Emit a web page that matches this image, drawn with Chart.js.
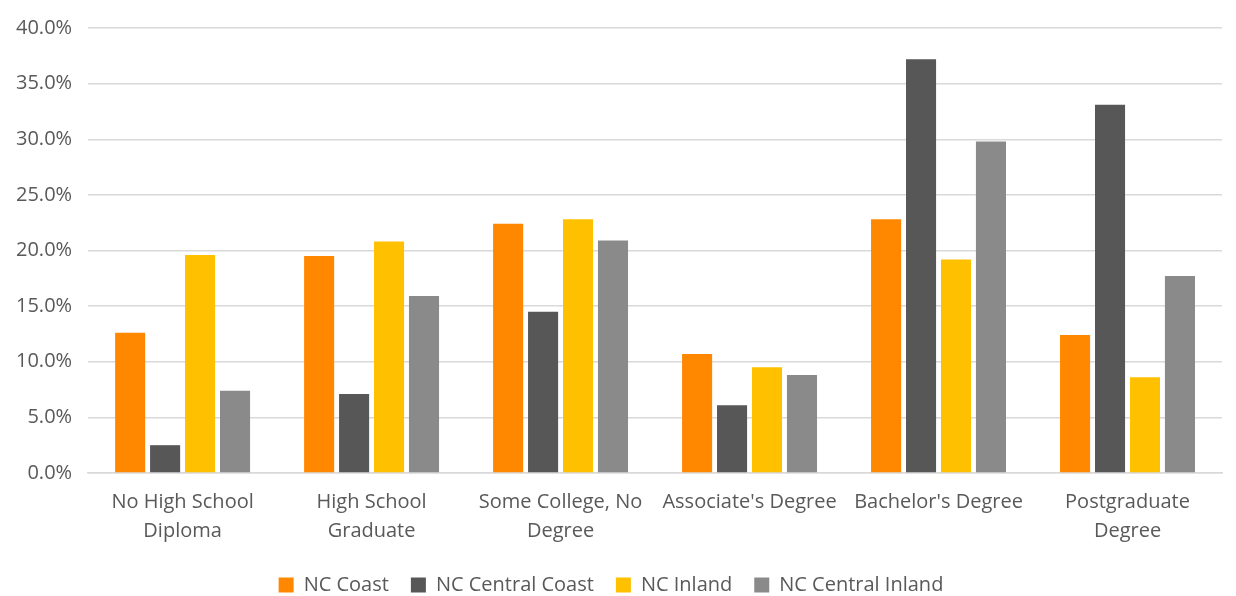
<!DOCTYPE html>
<html>
<head>
<meta charset="utf-8">
<script src="https://cdn.jsdelivr.net/npm/chart.js@4"></script>
<style>
  html, body { margin: 0; padding: 0; background: #fff; }
  #wrap { width: 1236px; height: 596px; }
</style>
</head>
<body>
<div id="wrap"><canvas id="chart" width="1236" height="596"></canvas></div>
<script>
// ---- Data ----
const categories = [
    ['No High School', 'Diploma'],
    ['High School', 'Graduate'],
    ['Some College, No', 'Degree'],
    "Associate's Degree",
    "Bachelor's Degree",
    ['Postgraduate', 'Degree']
];
const seriesNames = ['NC Coast', 'NC Central Coast', 'NC Inland', 'NC Central Inland'];
const ncCoast = [12.6, 19.5, 22.4, 10.7, 22.8, 12.4];
const ncCentralCoast = [2.5, 7.1, 14.5, 6.1, 37.2, 33.1];
const ncInland = [19.6, 20.8, 22.8, 9.5, 19.2, 8.6];
const ncCentralInland = [7.4, 15.9, 20.9, 8.8, 29.8, 17.7];
const colors = ['#ff8800', '#575757', '#ffc000', '#8a8a8a'];

const fontFamily = '"Open Sans", sans-serif';

const seriesValues = [ncCoast, ncCentralCoast, ncInland, ncCentralInland];
const datasets = seriesNames.map(function (name, i) {
    return {
        label: name,
        data: seriesValues[i],
        backgroundColor: colors[i],
        borderWidth: 0,
        categoryPercentage: 0.74,
        barPercentage: 0.86
    };
});

const ctx = document.getElementById('chart').getContext('2d');
new Chart(ctx, {
    type: 'bar',
    data: { labels: categories, datasets: datasets },
    options: {
        responsive: false,
        animation: false,
        layout: { padding: { left: 0, right: 14, top: 5, bottom: -9 } },
        scales: {
            y: {
                min: 0,
                max: 40,
                ticks: {
                    stepSize: 5,
                    color: '#595959',
                    padding: 16,
                    font: { family: fontFamily, size: 20 },
                    callback: function (v) { return v.toFixed(1) + '%'; }
                },
                grid: { color: '#d9d9d9', lineWidth: 1.5, drawTicks: false },
                border: { display: false }
            },
            x: {
                ticks: {
                    color: '#595959',
                    padding: 7,
                    maxRotation: 0,
                    font: { family: fontFamily, size: 20, lineHeight: 1.45 }
                },
                grid: { display: false },
                border: { color: '#d9d9d9', width: 1.5 }
            }
        },
        plugins: {
            legend: {
                position: 'bottom',
                labels: {
                    color: '#595959',
                    boxWidth: 15,
                    boxHeight: 15,
                    padding: 22,
                    font: { family: fontFamily, size: 20 }
                }
            },
            tooltip: { enabled: false }
        }
    }
});
</script>
</body>
</html>
